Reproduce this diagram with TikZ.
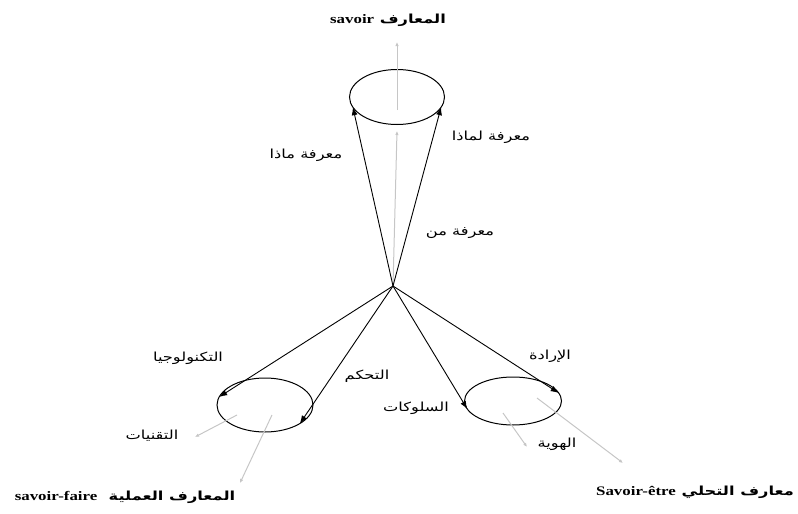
\documentclass[tikz,border=0pt]{standalone}
\usepackage{fontspec}
\setmainfont{Liberation Serif}
\newfontfamily\arabicfont[Script=Arabic,FakeStretch=1.3]{DejaVu Sans}
\newfontfamily\latinwide[FakeStretch=1.3]{Liberation Serif}
\TeXXeTstate=1
\usetikzlibrary{shapes.geometric,arrows.meta}

\begin{document}
\begin{tikzpicture}[
        x=1pt, y=-1pt,
        ring/.style={ellipse, draw, line width=1pt, minimum width=95pt, minimum height=55pt, inner sep=0pt, outer sep=0pt},
        lbl/.style={font=\arabicfont\fontsize{12.5}{14}\selectfont, inner sep=1pt},
        ttl/.style={font=\arabicfont\bfseries\fontsize{12.5}{14}\selectfont, inner sep=1pt},
        conn/.style={-{Latex[length=8pt,width=6pt]}, line width=0.9pt},
        trace/.style={-{Latex[length=4pt,width=3.5pt]}, gray!45, line width=1pt},
    ]
        \useasboundingbox (0,0) rectangle (798,514);

        % Apex and the three rings
        \coordinate (o) at (393,286);
        \node[ring] (know) at (397,97) {};
        \node[ring, minimum width=96pt, minimum height=54pt] (faire) at (265,405) {};
        \node[ring, minimum width=97pt, minimum height=48pt] (etre) at (513,401) {};

        % Labels
        \node[ttl] (savoir) at (388,20) {\beginR المعارف \beginL{\latinwide\bfseries\fontsize{13}{14}\selectfont savoir}\endL\endR};
        \node[lbl] (why) at (491,137) {\beginR معرفة لماذا\endR};
        \node[lbl] (what) at (306,155) {\beginR معرفة ماذا\endR};
        \node[lbl] (who) at (460,233) {\beginR معرفة من\endR};
        \node[lbl] (tech) at (188,358) {\beginR التكنولوجيا\endR};
        \node[lbl] (techn) at (152,436) {\beginR التقنيات\endR};
        \node[lbl] (ctrl) at (367,376) {\beginR التحكم\endR};
        \node[lbl] (will) at (550,356) {\beginR الإرادة\endR};
        \node[lbl] (behav) at (416,408) {\beginR السلوكات\endR};
        \node[lbl] (ident) at (557,444) {\beginR الهوية\endR};
        \node[ttl] (faireT) at (125,497) {\beginR المعارف العملية\ \ \beginL{\latinwide\bfseries\fontsize{13}{14}\selectfont savoir-faire}\endL\endR};
        \node[ttl] (etreT) at (695,492) {\beginR معارف التحلي \beginL{\latinwide\bfseries\fontsize{13}{14}\selectfont Savoir-être}\endL\endR};

        % Free ends of the gray arrows
        \coordinate (k1) at (397,131);
        \coordinate (k2) at (397,110);
        \coordinate (k3) at (397,42);
        \coordinate (f1) at (237,415);
        \coordinate (f2) at (195,437);
        \coordinate (f3) at (272,415);
        \coordinate (f4) at (240,483);
        \coordinate (e1) at (503,413);
        \coordinate (e2) at (527,447);
        \coordinate (e3) at (537,398);
        \coordinate (e4) at (623,463);

        % Gray arrows
        \draw[trace] (o) -- (k1);
        \draw[trace] (k2) -- (k3);
        \draw[trace] (f1) -- (f2);
        \draw[trace] (f3) -- (f4);
        \draw[trace] (e1) -- (e2);
        \draw[trace] (e3) -- (e4);

        % Arrows from the apex
        \draw[conn] (o) -- (know.193);
        \draw[conn] (o) -- (know.347);
        \draw[conn] (o) -- (faire.170);
        \draw[conn] (o) -- (faire.332);
        \draw[conn] (o) -- (etre.190);
        \draw[conn] (o) -- (etre.10);

    \end{tikzpicture}
\end{document}
